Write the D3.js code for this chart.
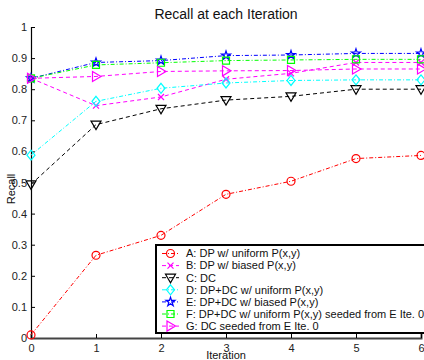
<!DOCTYPE html>
<html>
<head>
<meta charset="utf-8">
<script src="https://cdn.jsdelivr.net/npm/d3@7"></script>
<style>
  body { margin: 0; background: #fff; }
  svg { font-family: "Liberation Sans", Arial, sans-serif; }
</style>
</head>
<body>
<svg id="chart" width="424" height="360"></svg>
<script>
const iterations = [0, 1, 2, 3, 4, 5, 6];
const yTicks = [0, 0.1, 0.2, 0.3, 0.4, 0.5, 0.6, 0.7, 0.8, 0.9, 1];

const seriesNames = [
  'A: DP w/ uniform P(x,y)',
  'B: DP w/ biased P(x,y)',
  'C: DC',
  'D: DP+DC w/ uniform P(x,y)',
  'E: DP+DC w/ biased P(x,y)',
  'F: DP+DC w/ uniform P(x,y) seeded from E Ite. 0',
  'G: DC seeded from E Ite. 0'
];
const recallA = [0.01, 0.266, 0.33, 0.462, 0.504, 0.577, 0.587];
const recallB = [0.835, 0.747, 0.775, 0.832, 0.851, 0.886, 0.886];
const recallC = [0.494, 0.686, 0.737, 0.765, 0.777, 0.8, 0.8];
const recallD = [0.588, 0.761, 0.803, 0.82, 0.828, 0.83, 0.83];
const recallE = [0.835, 0.886, 0.892, 0.908, 0.91, 0.915, 0.915];
const recallF = [0.835, 0.878, 0.885, 0.892, 0.894, 0.896, 0.896];
const recallG = [0.835, 0.841, 0.857, 0.859, 0.86, 0.865, 0.865];

const allValues = [recallA, recallB, recallC, recallD, recallE, recallF, recallG];
const colors = ['#ff0000', '#ff00ff', '#000000', '#00ffff', '#0000ff', '#00ff00', '#ff00ff'];
const dashes = ['4,2,1,2', '4,3', '4,3', '4,2,1,2', '4,2,1,2', '4,2,1,2', '4,3'];
const markers = ['circle', 'x', 'tridown', 'diamond', 'star', 'square', 'triright'];

const svg = d3.select('#chart');
const x = d3.scaleLinear().domain([0, 6]).range([31, 421]);
const y = d3.scaleLinear().domain([0, 1]).range([338, 27]);

function markerPath(type) {
  if (type === 'circle') return d3.symbol(d3.symbolCircle, 50)();
  if (type === 'square') return 'M-3.5,-3.5H3.5V3.5H-3.5Z';
  if (type === 'diamond') return 'M0,-5L4,0L0,5L-4,0Z';
  if (type === 'x') return 'M-3,-3L3,3M-3,3L3,-3';
  if (type === 'tridown') return 'M-5,-3.5L5,-3.5L0,5Z';
  if (type === 'triright') return 'M-3.5,-5L5,0L-3.5,5Z';
  if (type === 'star') return d3.symbol(d3.symbolStar, 24)();
  return '';
}

// axes
const yAxis = d3.axisLeft(y).tickValues(yTicks).tickSize(-4).tickPadding(4)
  .tickFormat(d => d === 0 ? '0' : d === 1 ? '1' : d3.format('.1f')(d));
const gy = svg.append('g').attr('transform', 'translate(31,0)').call(yAxis);
const xAxis = d3.axisBottom(x).tickValues(iterations).tickSize(-4).tickPadding(4)
  .tickFormat(d3.format('d'));
const gx = svg.append('g').attr('transform', 'translate(0,338)').call(xAxis);
[gx, gy].forEach(g => {
  g.select('.domain').attr('stroke', '#000').attr('stroke-width', 1.2);
  g.selectAll('.tick line').attr('stroke', '#000');
  g.selectAll('.tick text').attr('font-size', 11).attr('fill', '#222')
    .attr('font-family', '"Liberation Sans", Arial, sans-serif');
});
gx.select('.domain').attr('stroke-width', 2).attr('stroke', '#444');
gx.selectAll('.tick text').attr('dy', '0.9em');

// lines and markers
const line = d3.line().x((d, i) => x(iterations[i])).y(d => y(d));
allValues.forEach((vals, k) => {
  svg.append('path').datum(vals)
    .attr('d', line)
    .attr('fill', 'none')
    .attr('stroke', colors[k])
    .attr('stroke-width', 1)
    .attr('stroke-dasharray', dashes[k]);
});
allValues.forEach((vals, k) => {
  svg.append('g').selectAll('path').data(vals).join('path')
    .attr('transform', (d, i) => `translate(${x(iterations[i])},${y(d)})`)
    .attr('d', markerPath(markers[k]))
    .attr('fill', 'none')
    .attr('stroke', colors[k])
    .attr('stroke-width', 1.2);
});

// title and axis labels
svg.append('text').attr('x', 226).attr('y', 19).attr('text-anchor', 'middle')
  .attr('font-size', 14).attr('fill', '#111').text('Recall at each Iteration');
svg.append('text').attr('x', 226).attr('y', 359).attr('text-anchor', 'middle')
  .attr('font-size', 11).attr('fill', '#111').text('Iteration');
svg.append('text').attr('transform', 'translate(15,189) rotate(-90)')
  .attr('text-anchor', 'middle').attr('font-size', 11).attr('fill', '#111').text('Recall');

// legend
const legend = svg.append('g');
legend.append('rect').attr('x', 156).attr('y', 245).attr('width', 280).attr('height', 88)
  .attr('fill', '#fff').attr('stroke', '#000').attr('stroke-width', 2);
seriesNames.forEach((name, k) => {
  const ly = 253.5 + k * 12.1;
  legend.append('line').attr('x1', 162).attr('x2', 179).attr('y1', ly).attr('y2', ly)
    .attr('stroke', colors[k]).attr('stroke-dasharray', dashes[k]);
  legend.append('path').attr('transform', `translate(170.5,${ly})`)
    .attr('d', markerPath(markers[k])).attr('fill', 'none')
    .attr('stroke', colors[k]).attr('stroke-width', 1.2);
  legend.append('text').attr('x', 186).attr('y', ly).attr('dy', '0.35em')
    .attr('font-size', 11).attr('fill', '#111').text(name);
});
</script>
</body>
</html>
